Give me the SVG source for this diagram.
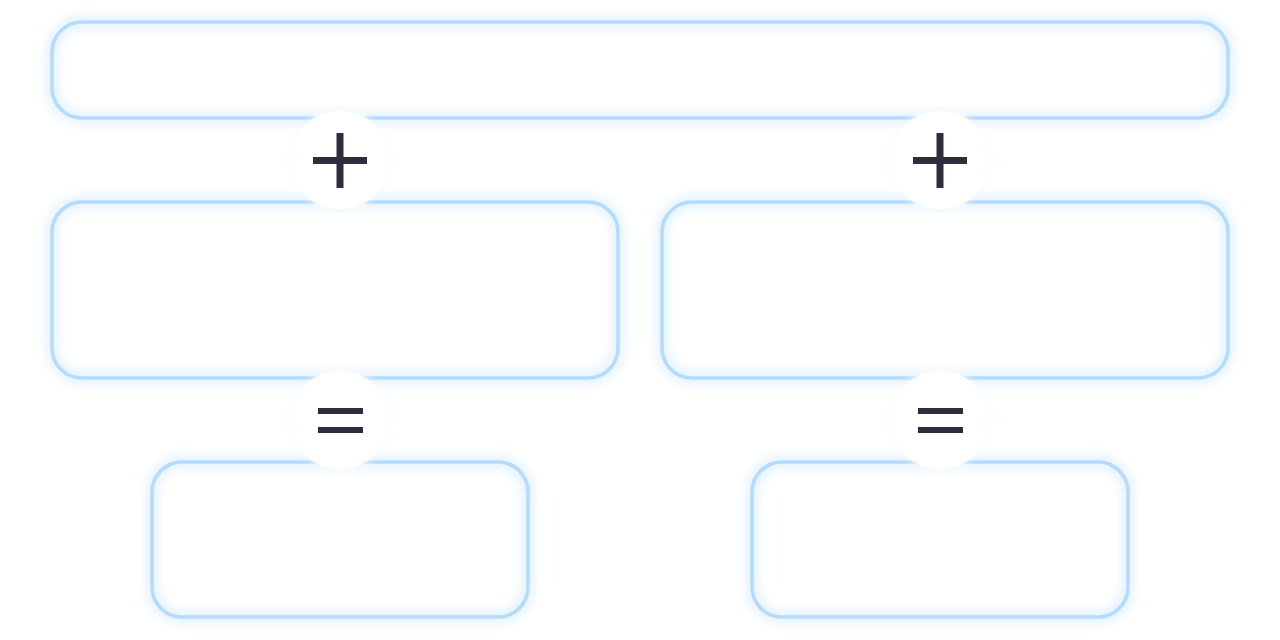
<svg xmlns="http://www.w3.org/2000/svg" width="1280" height="640" viewBox="0 0 1280 640">
<defs>
<filter id="glow" x="-10%" y="-20%" width="120%" height="140%">
<feGaussianBlur stdDeviation="6"/>
</filter>
<filter id="cglow" x="-50%" y="-50%" width="200%" height="200%">
<feGaussianBlur stdDeviation="3"/>
</filter>
</defs>
<style>
.halo{fill:none;stroke:#cfe8ff;stroke-width:8;opacity:0.9;filter:url(#glow)}
.box{fill:none;stroke:#b3dbff;stroke-width:3.5}
.op{fill:#2f2c3e}
.disc{fill:#ffffff}
.dhalo{fill:#f6faff;filter:url(#cglow)}
</style>
<rect width="1280" height="640" fill="#ffffff"/>
<g id="top">
<rect class="halo" x="52" y="22" width="1176" height="96" rx="30"/>
<rect class="box" x="52" y="22" width="1176" height="96" rx="30"/>
</g>
<g id="mid-left">
<rect class="halo" x="52" y="202" width="566" height="176" rx="30"/>
<rect class="box" x="52" y="202" width="566" height="176" rx="30"/>
</g>
<g id="mid-right">
<rect class="halo" x="662" y="202" width="566" height="176" rx="30"/>
<rect class="box" x="662" y="202" width="566" height="176" rx="30"/>
</g>
<g id="bottom-left">
<rect class="halo" x="152" y="462" width="376" height="155" rx="30"/>
<rect class="box" x="152" y="462" width="376" height="155" rx="30"/>
</g>
<g id="bottom-right">
<rect class="halo" x="752" y="462" width="376" height="155" rx="30"/>
<rect class="box" x="752" y="462" width="376" height="155" rx="30"/>
</g>
<g id="connectors">
<g id="plus-left">
<circle class="dhalo" cx="340" cy="160" r="50"/>
<circle class="disc" cx="340" cy="160" r="49"/>
<rect class="op" x="336.5" y="133" width="7" height="55"/>
<rect class="op" x="313" y="157" width="54" height="7"/>
</g>
<g id="plus-right">
<circle class="dhalo" cx="940" cy="160" r="50"/>
<circle class="disc" cx="940" cy="160" r="49"/>
<rect class="op" x="936.5" y="133" width="7" height="55"/>
<rect class="op" x="913" y="157" width="54" height="7"/>
</g>
<g id="eq-left">
<circle class="dhalo" cx="340" cy="420" r="50"/>
<circle class="disc" cx="340" cy="420" r="49"/>
<rect class="op" x="318" y="408" width="45" height="6"/>
<rect class="op" x="318" y="427" width="45" height="6"/>
</g>
<g id="eq-right">
<circle class="dhalo" cx="940" cy="420" r="50"/>
<circle class="disc" cx="940" cy="420" r="49"/>
<rect class="op" x="918" y="408" width="45" height="6"/>
<rect class="op" x="918" y="427" width="45" height="6"/>
</g>
</g>
</svg>
